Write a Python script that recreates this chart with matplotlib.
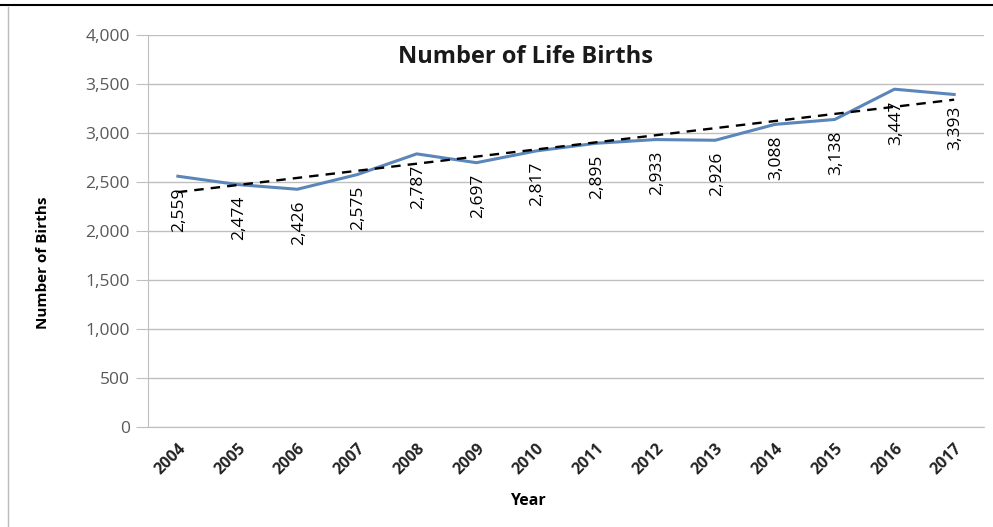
import matplotlib
matplotlib.use("Agg")
import matplotlib.pyplot as plt
from matplotlib.lines import Line2D
import numpy as np

years = ["2004", "2005", "2006", "2007", "2008", "2009", "2010",
         "2011", "2012", "2013", "2014", "2015", "2016", "2017"]
births = [2559, 2474, 2426, 2575, 2787, 2697, 2817,
          2895, 2933, 2926, 3088, 3138, 3447, 3393]
yticks = [0, 500, 1000, 1500, 2000, 2500, 3000, 3500, 4000]

plt.rcParams['font.family'] = ['Open Sans', 'DejaVu Sans']

W, H = 993, 527
fig = plt.figure(figsize=(W / 100, H / 100), dpi=100)
ax = fig.add_axes([148 / W, 1 - 427 / H, (984 - 148) / W, (427 - 35) / H])

x = np.arange(len(years))
ax.plot(x, births, color='#5B86BA', lw=2.2, zorder=3)

coef = np.polyfit(x, births, 1)
trend = np.polyval(coef, x)
ax.plot(x, trend, color='black', lw=1.7, ls=(0, (4, 3)), zorder=4)

for xi, v in zip(x, births):
    ax.annotate(f"{v:,}", (xi, v), xytext=(1, -8), textcoords='offset points',
                rotation=90, ha='center', va='top', fontsize=12.5, color='black')

ax.set_xlim(-0.5, len(years) - 0.5)
ax.set_ylim(0, 4000)
ax.set_yticks(yticks)
ax.set_yticklabels([f"{t:,}" for t in yticks], fontsize=12.5, color='#595959')
ax.set_xticks(x)
ax.set_xticklabels(years, rotation=45, ha='right', rotation_mode='anchor',
                   fontsize=11.5, fontweight='bold', color='#222222')
ax.tick_params(axis='y', length=9, color='#BFBFBF', pad=4)
ax.tick_params(axis='x', length=0, pad=10)
ax.grid(axis='y', color='#BFBFBF', lw=1)
ax.set_axisbelow(True)
for s in ['top', 'right']:
    ax.spines[s].set_visible(False)
ax.spines['left'].set_color('#BFBFBF')
ax.spines['bottom'].set_color('#BFBFBF')

fig.text(525 / W, 1 - 57 / H, "Number of Life Births", fontsize=17,
         fontweight='bold', ha='center', va='center', color='#1a1a1a')
ax.set_ylabel("Number of Births", fontsize=11, fontweight='bold')
ax.yaxis.set_label_coords((43 - 148) / (984 - 148), (427 - 263) / (427 - 35))
ax.yaxis.label.set_verticalalignment('center')
fig.text(528 / W, 1 - 501 / H, "Year", fontsize=11.5, fontweight='bold',
         ha='center', va='center')

fig.add_artist(Line2D([0, 1], [1 - 5 / H, 1 - 5 / H], color='black', lw=1.5,
                      transform=fig.transFigure))
fig.add_artist(Line2D([8 / W, 8 / W], [0, 1 - 7 / H], color='#BBBBBB', lw=1,
                      transform=fig.transFigure))

fig.savefig("out.png", dpi=100)
